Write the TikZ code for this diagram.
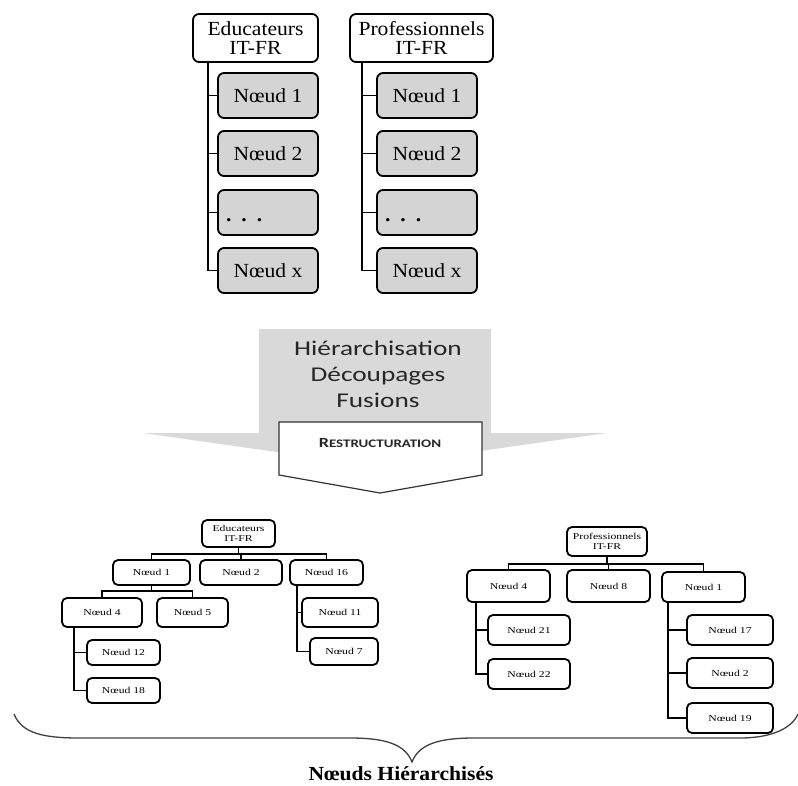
\documentclass[tikz,border=0pt]{standalone}
\usepackage{fontspec}
\setmainfont[FakeStretch=1.08]{Liberation Serif}
\newfontfamily\tinyfont[FakeStretch=1.3]{Liberation Serif}
\newfontfamily\arrowfont[FakeStretch=1.3]{Carlito}
\usetikzlibrary{calc}
\usetikzlibrary{positioning}

\definecolor{leafgray}{RGB}{212,212,212}
\definecolor{arrowgray}{RGB}{217,217,217}
\definecolor{textdark}{RGB}{38,38,38}

\tikzset{
  topbox/.style={draw,line width=1.8pt,rounded corners=6pt,inner sep=0pt,
    minimum height=45pt,font=\fontsize{20}{19}\selectfont},
  toproot/.style={topbox,fill=white,minimum height=48pt,align=center},
  topleaf/.style={topbox,fill=leafgray,minimum width=100pt},
  smallbox/.style={draw,line width=1.8pt,rounded corners=5pt,inner sep=0pt,
    fill=white,align=center,font=\tinyfont\fontsize{9}{10}\selectfont},
  link/.style={line width=1.8pt},
  smalllink/.style={line width=1.8pt}
}

\begin{document}
\begin{tikzpicture}[x=1pt,y=-1pt]

  \useasboundingbox (0,0) rectangle (798,785);

  % source trees
  \node [toproot,minimum width=125pt] (eduTop) at (255.5,38) {Educateurs\\IT-FR};
  \node [toproot,minimum width=143pt] (proTop) at (421.5,38) {Professionnels\\IT-FR};

  \foreach \tree/\cx/\off in {edu/268/16, pro/427/13} {
    \node [topleaf] (\tree1) at (\cx,95.5) {Nœud 1};
    \node [topleaf] (\tree2) at (\cx,153.5) {Nœud 2};
    \node [topleaf,text width=84pt,align=left] (\tree3) at (\cx,212.5)
      {\raisebox{-9pt}[0pt][0pt]{\textbf{. . .}}};
    \node [topleaf] (\tree4) at (\cx,270.5) {Nœud x};
    \foreach \n in {1,...,4}
      \draw [link] ([xshift=\off pt]\tree Top.south west) |- (\tree\n.west);
  }

  % restructuring arrow
  \fill [arrowgray] (259,329) -- (491,329) -- (491,433) -- (607,433)
    -- (375,466) -- (143,433) -- (259,433) -- cycle;
  \node [font=\arrowfont\fontsize{21}{26}\selectfont,align=center,text=textdark]
    (steps) at (378,374) {Hiérarchisation\\Découpages\\Fusions};
  \draw [line width=1.2pt,draw=black!80,fill=white]
    (279,422) -- (482,422) -- (482,475) -- (380,493) -- (279,475) -- cycle;
  \node [font=\arrowfont\bfseries,text=textdark] (restr) at (380,443)
    {{\fontsize{14}{14}\selectfont R}{\fontsize{11.5}{14}\selectfont ESTRUCTURATION}};

  % hierarchised tree: educateurs
  \node [smallbox,minimum width=73pt,minimum height=27pt] (eduB) at (238.5,533.5) {Educateurs\\IT-FR};
  \node [smallbox,minimum width=77pt,minimum height=25pt] (eduB1) at (151.5,572.5) {Nœud 1};
  \node [smallbox,minimum width=82pt,minimum height=25pt] (eduB2) at (241,572.5) {Nœud 2};
  \node [smallbox,minimum width=73pt,minimum height=25pt] (eduB16) at (326.5,572.5) {Nœud 16};
  \node [smallbox,minimum width=80pt,minimum height=29pt] (eduB4) at (102,612.5) {Nœud 4};
  \node [smallbox,minimum width=71pt,minimum height=29pt] (eduB5) at (192.5,612.5) {Nœud 5};
  \node [smallbox,minimum width=73pt,minimum height=25pt] (eduB12) at (123.5,652.5) {Nœud 12};
  \node [smallbox,minimum width=73pt,minimum height=25pt] (eduB18) at (123.5,690.5) {Nœud 18};
  \node [smallbox,minimum width=76pt,minimum height=29pt] (eduB11) at (340,612.5) {Nœud 11};
  \node [smallbox,minimum width=68pt,minimum height=27pt] (eduB7) at (344,651.5) {Nœud 7};

  \foreach \c in {eduB1,eduB2,eduB16}
    \draw [smalllink] (eduB.south) -- ++(0,6) -| (\c.north);
  \foreach \c in {eduB4,eduB5}
    \draw [smalllink] (eduB1.south) -- ++(0,5) -| (\c.north);
  \foreach \c in {eduB12,eduB18}
    \draw [smalllink] ([xshift=13pt]eduB4.south west) |- (\c.west);
  \foreach \c in {eduB11,eduB7}
    \draw [smalllink] ([xshift=8pt]eduB16.south west) |- (\c.west);

  % hierarchised tree: professionnels
  \node [smallbox,minimum width=80pt,minimum height=29pt] (proB) at (607,541.5) {Professionnels\\IT-FR};
  \node [smallbox,minimum width=83pt,minimum height=32pt] (proB4) at (508.5,586) {Nœud 4};
  \node [smallbox,minimum width=83pt,minimum height=32pt] (proB8) at (608.5,586) {Nœud 8};
  \node [smallbox,minimum width=83pt,minimum height=30pt] (proB1) at (703.5,587) {Nœud 1};
  \node [smallbox,minimum width=82pt,minimum height=30pt] (proB21) at (529,630) {Nœud 21};
  \node [smallbox,minimum width=82pt,minimum height=30pt] (proB22) at (529,674) {Nœud 22};
  \node [smallbox,minimum width=86pt,minimum height=30pt] (proB17) at (730,630) {Nœud 17};
  \node [smallbox,minimum width=86pt,minimum height=30pt] (proB2) at (730,673) {Nœud 2};
  \node [smallbox,minimum width=86pt,minimum height=30pt] (proB19) at (730,718) {Nœud 19};

  \foreach \c in {proB4,proB8,proB1}
    \draw [smalllink] (proB.south) -- ++(0,7) -| (\c.north);
  \foreach \c in {proB21,proB22}
    \draw [smalllink] ([xshift=10pt]proB4.south west) |- (\c.west);
  \foreach \c in {proB17,proB2,proB19}
    \draw [smalllink] ([xshift=7pt]proB1.south west) |- (\c.west);

  % brace
  \draw [line width=1.3pt,draw=black!75]
    (14,714) .. controls (22,734) and (45,738) .. (80,738) -- (350,738)
    .. controls (385,738) and (405,744) .. (412,762)
    .. controls (419,744) and (439,738) .. (474,738) -- (740,738)
    .. controls (772,738) and (792,728) .. (798,714);
  \node [font=\fontsize{20}{20}\selectfont\bfseries,inner sep=0pt,anchor=base]
    (braceLabel) at (401,780) {Nœuds Hiérarchisés};

\end{tikzpicture}
\end{document}
